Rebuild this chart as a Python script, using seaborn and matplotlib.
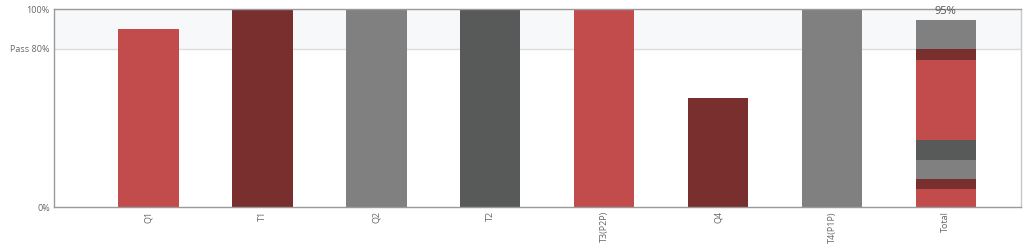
import matplotlib
matplotlib.use("Agg")
import matplotlib.pyplot as plt
import seaborn as sns
import pandas as pd
import numpy as np

# ---- data ----
categories = ["Q1", "T1", "Q2", "T2", "T3(P2P)", "Q4", "T4(P1P)"]
scores = [90, 100, 100, 100, 100, 55, 100]
# contribution of each item to the Total bar (stacked bottom-up)
contributions = [9.3, 4.9, 9.8, 9.8, 40.5, 5.6, 14.9]
total_label = "Total"
total_text = "95%"
ytick_values = [0, 80, 100]
ytick_labels = ["0%", "Pass 80%", "100%"]

RED = "#c24b4b"
DARKRED = "#7a2f2f"
GRAY = "#7f807f"
DARKGRAY = "#585a59"
bar_colors = [RED, DARKRED, GRAY, DARKGRAY, RED, DARKRED, GRAY]

sns.set_theme(style="white")
plt.rcParams["font.family"] = ["Open Sans", "DejaVu Sans"]

fig = plt.figure(figsize=(10.24, 2.49), dpi=100)
ax = fig.add_axes([54 / 1024, 1 - 207 / 249, (1021 - 54) / 1024, (207 - 9.5) / 249])

order = categories + [total_label]
df = pd.DataFrame({"item": categories, "score": scores})
palette = dict(zip(categories, bar_colors))

# pass band and pass line
ax.axhspan(80, 100, color="#f6f8fa", zorder=0, lw=0)
ax.axhline(80, color="#dcdcdc", lw=1, zorder=0.5)

sns.barplot(data=df, x="item", y="score", hue="item", palette=palette,
            order=order, hue_order=categories, width=0.53, saturation=1,
            legend=False, ax=ax, zorder=2, linewidth=0, edgecolor="none")

# stacked Total bar: draw cumulative heights from tallest to shortest
cum = np.cumsum(contributions)
for i in range(len(contributions) - 1, -1, -1):
    sns.barplot(x=[total_label], y=[cum[i]], color=bar_colors[i], order=order,
                width=0.53, saturation=1, ax=ax, zorder=2,
                linewidth=0, edgecolor="none")

ax.text(order.index(total_label), cum[-1] + 1.2, total_text, ha="center", va="bottom",
        fontsize=8, color="#555555")

ax.set_ylim(0, 100)
ax.set_xlim(-0.83, 7.66)
ax.set_yticks(ytick_values)
ax.set_yticklabels(ytick_labels, fontsize=6.5, color="#666666")
ax.set_xticks(range(len(order)))
ax.set_xticklabels(order, rotation=90, fontsize=6.5, color="#666666")
ax.tick_params(axis="both", length=0, pad=3)
ax.set_xlabel("")
ax.set_ylabel("")

for side in ["left", "bottom", "top"]:
    ax.spines[side].set_color("#9a9a9a")
    ax.spines[side].set_linewidth(1)
ax.spines["right"].set_color("#c8c8c8")
ax.spines["right"].set_linewidth(1)

fig.savefig("out.png", dpi=100)
